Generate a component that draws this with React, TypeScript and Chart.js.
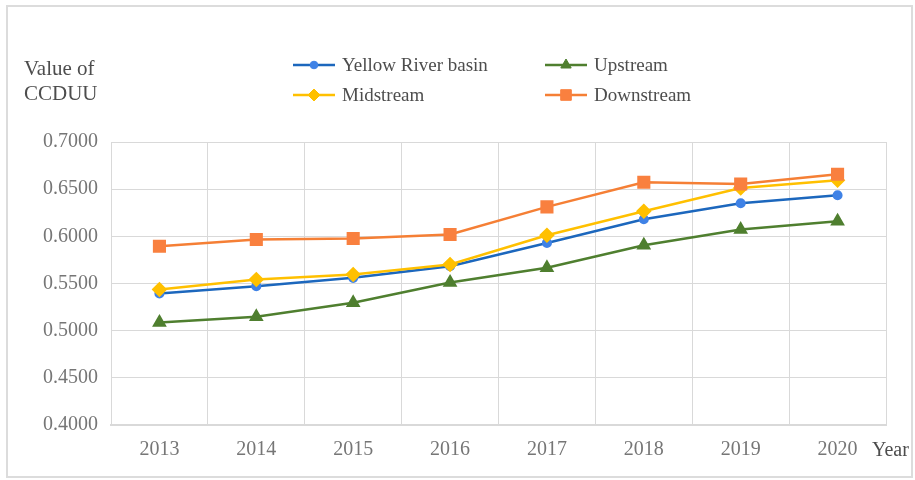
import React, { useEffect, useRef } from 'react';
import { Chart, registerables } from 'chart.js';
import { drawPoint } from 'chart.js/helpers';

Chart.register(...registerables);

// ---- data ----
const years = ['2013', '2014', '2015', '2016', '2017', '2018', '2019', '2020'];
const yellowRiverBasin = [0.5395, 0.5472, 0.556, 0.5684, 0.593, 0.6181, 0.6351, 0.6435];
const upstream = [0.5087, 0.5147, 0.5295, 0.5511, 0.5666, 0.5906, 0.6072, 0.616];
const midstream = [0.5437, 0.5543, 0.5596, 0.5702, 0.6012, 0.6266, 0.6513, 0.6594];
const downstream = [0.5895, 0.5966, 0.5977, 0.6019, 0.6312, 0.6573, 0.6555, 0.6658];
const seriesNames = ['Yellow River basin', 'Upstream', 'Midstream', 'Downstream'];
const yTitleLines = ['Value of', 'CCDUU'];
const xTitle = 'Year';
const yMin = 0.4;
const yMax = 0.7;
const yStep = 0.05;

const FONT = "'Liberation Serif', 'Times New Roman', serif";
const TICK_COLOR = '#767676';
const LABEL_COLOR = '#4d4d4d';
const GRID = '#d9d9d9';

const extrasPlugin = {
  id: 'extras',
  afterDraw(chart: any) {
    const ctx = chart.ctx;
    ctx.save();
    // axis titles
    ctx.fillStyle = LABEL_COLOR;
    ctx.font = `21px ${FONT}`;
    ctx.textAlign = 'left';
    ctx.textBaseline = 'middle';
    ctx.fillText(yTitleLines[0], 24, 69);
    ctx.fillText(yTitleLines[1], 24, 94);
    ctx.font = `20px ${FONT}`;
    ctx.fillText(xTitle, 872, 451);

    // legend (2 x 2 grid)
    const cols = [293, 545];
    const rows = [65, 95];
    chart.data.datasets.forEach((ds: any, i: number) => {
      const x0 = cols[i % 2];
      const y = rows[Math.floor(i / 2)];
      ctx.strokeStyle = ds.borderColor;
      ctx.lineWidth = ds.borderWidth;
      ctx.beginPath();
      ctx.moveTo(x0, y);
      ctx.lineTo(x0 + 42, y);
      ctx.stroke();
      ctx.fillStyle = ds.pointBackgroundColor;
      ctx.strokeStyle = ds.pointBorderColor;
      ctx.lineWidth = 1;
      drawPoint(ctx, { pointStyle: ds.pointStyle, radius: ds.pointRadius, rotation: 0, borderWidth: 1 }, x0 + 21, y);
      ctx.fillStyle = LABEL_COLOR;
      ctx.font = `19px ${FONT}`;
      ctx.textAlign = 'left';
      ctx.textBaseline = 'middle';
      ctx.fillText(ds.label, x0 + 49, y + 1);
    });

    // outer frame
    ctx.strokeStyle = '#dcdcdc';
    ctx.lineWidth = 2;
    ctx.strokeRect(7, 6, 905, 471);
    ctx.restore();
  },
};

export default function App() {
  const ref = useRef<HTMLCanvasElement | null>(null);
  useEffect(() => {
    if (!ref.current) return;
    const chart = new Chart(ref.current, {
      type: 'line',
      data: {
        labels: years,
        datasets: [
          {
            label: seriesNames[0],
            data: yellowRiverBasin,
            borderColor: '#1c67bd',
            backgroundColor: '#3f82e6',
            pointBackgroundColor: '#3f82e6',
            pointBorderColor: '#3f82e6',
            pointStyle: 'circle',
            pointRadius: 3.8,
            borderWidth: 2.5,
            order: 3,
          },
          {
            label: seriesNames[1],
            data: upstream,
            borderColor: '#4f7f2f',
            backgroundColor: '#4f7f2f',
            pointBackgroundColor: '#4f7f2f',
            pointBorderColor: '#4f7f2f',
            pointStyle: 'triangle',
            pointRadius: 6,
            borderWidth: 2.5,
            order: 2,
          },
          {
            label: seriesNames[2],
            data: midstream,
            borderColor: '#ffc000',
            backgroundColor: '#ffc000',
            pointBackgroundColor: '#ffc000',
            pointBorderColor: '#ffc000',
            pointStyle: 'rectRot',
            pointRadius: 6,
            borderWidth: 2.5,
            order: 1,
          },
          {
            label: seriesNames[3],
            data: downstream,
            borderColor: '#f57f35',
            backgroundColor: '#f9803f',
            pointBackgroundColor: '#f9803f',
            pointBorderColor: '#f9803f',
            pointStyle: 'rect',
            pointRadius: 7.5,
            borderWidth: 2.5,
            order: 0,
          },
        ],
      },
      options: {
        responsive: false,
        animation: false,
        devicePixelRatio: 1,
        layout: { padding: { top: 142, left: 0, right: 29, bottom: 0 } },
        plugins: {
          legend: { display: false },
          tooltip: { enabled: false },
          title: { display: false },
        },
        scales: {
          x: {
            offset: true,
            grid: { color: GRID, lineWidth: 1, drawTicks: false, offset: true },
            border: { color: GRID, width: 2 },
            ticks: { color: TICK_COLOR, font: { family: FONT, size: 20 }, padding: 13, maxRotation: 0 },
            afterFit: (s: any) => { s.height = 55; },
          },
          y: {
            min: yMin,
            max: yMax,
            grid: { color: GRID, lineWidth: 1, drawTicks: false },
            border: { color: GRID, width: 1 },
            ticks: {
              stepSize: yStep,
              color: TICK_COLOR,
              font: { family: FONT, size: 20 },
              padding: 13,
              callback: (v: any) => Number(v).toFixed(4),
            },
            afterFit: (s: any) => { s.width = 111; },
          },
        },
      },
      plugins: [extrasPlugin],
    });
    return () => chart.destroy();
  }, []);
  return (
    <div style={{ position: 'absolute', left: 0, top: 0, width: 915, height: 480, background: '#fff' }}>
      <canvas ref={ref} width={915} height={480} style={{ display: 'block', width: 915, height: 480 }} />
    </div>
  );
}
